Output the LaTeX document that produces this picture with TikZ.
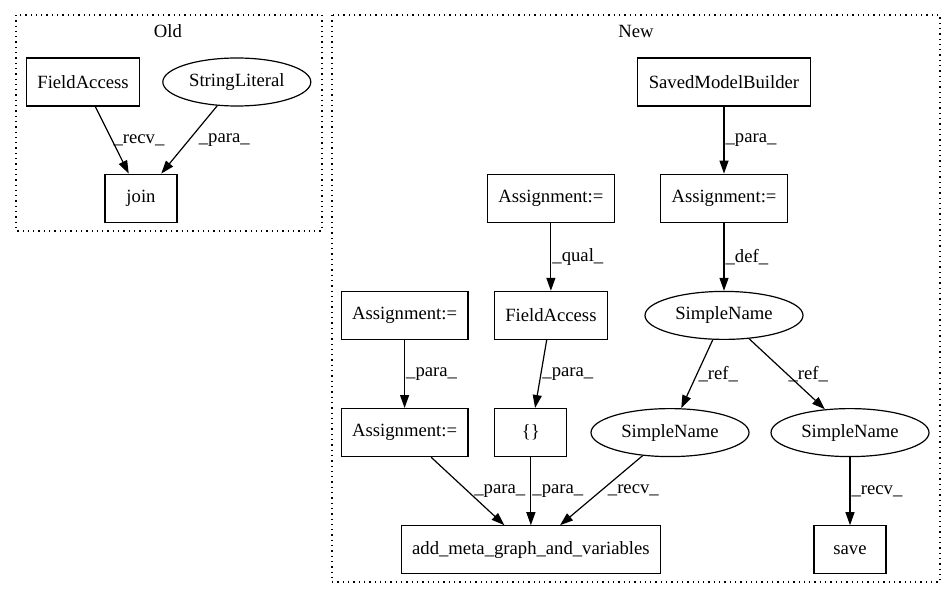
\documentclass[tikz,border=0pt]{standalone}
\usepackage{fontspec}
\setmainfont{Liberation Serif}
\usetikzlibrary{positioning,arrows.meta,shapes.geometric}
\tikzset{
	ast/.style={>={Triangle[length=13pt,width=9pt]},x=1pt,y=1pt,line width=1.2pt,
		font=\fontsize{18.67}{22}\selectfont,node distance=68pt},
	stmt/.style={rectangle,draw,minimum width=72pt,minimum height=48pt,inner xsep=11pt},
	simple/.style={ellipse,draw,minimum width=158pt,minimum height=48pt,inner sep=0pt},
	lbl/.style={anchor=west,inner sep=1pt},
	cluster/.style={draw,dash pattern=on 1.3pt off 4pt}
}

\begin{document}
\begin{tikzpicture}[ast]
	\useasboundingbox (0,0) rectangle (948,-596);
	
	% Old
	\draw[cluster] (16,-15) rectangle (322,-231);
	\node (old) at (168,-31) {Old};
	\node[stmt] (fa) at (83,-82) {FieldAccess};
	\node[simple,minimum width=148pt] (str) [right=22pt of fa] {StringLiteral};
	\node[stmt] (join) [below=67pt of fa,xshift=58pt] {join};
	
	\path[->] (fa) edge node[lbl] {\_recv\_} (join);
	\path[->] (str) edge node[lbl,xshift=8pt] {\_para\_} (join);
	
	% New
	\draw[cluster] (332,-15) rectangle (940,-582);
	\node (new) at (636,-31) {New};
	\node[stmt] (smb) at (724,-82) {SavedModelBuilder};
	\node[stmt] (asgr) [below=67pt of smb] {Assignment:=};
	\node[stmt] (asgm) [left=45pt of asgr] {Assignment:=};
	\node[simple] (sn) [below=68pt of asgr] {SimpleName};
	\node[stmt] (fam) [below=68pt of asgm] {FieldAccess};
	\node[stmt] (asgl) [left=25pt of fam] {Assignment:=};
	\node[stmt] (asgp) [below=68pt of asgl] {Assignment:=};
	\node[stmt] (init) [below=68pt of fam,xshift=-20pt] {\{\}};
	\node[simple] (snl) [below=68pt of sn,xshift=-54pt] {SimpleName};
	\node[simple] (snr) [below=68pt of sn,xshift=126pt] {SimpleName};
	\node[stmt] (add) [below=68pt of init] {add\_meta\_graph\_and\_variables};
	\node[stmt] (save) [below=68pt of snr] {save};
	
	\path[->] (smb) edge node[lbl] {\_para\_} (asgr);
	\path[->] (asgr) edge node[lbl] {\_def\_} (sn);
	\path[->] (asgm) edge node[lbl] {\_qual\_} (fam);
	\path[->] (asgl) edge node[lbl] {\_para\_} (asgp);
	\path[->] (fam) edge node[lbl] {\_para\_} (init);
	\path[->] (sn) edge node[lbl] {\_ref\_} (snl);
	\path[->] (sn) edge node[lbl] {\_ref\_} (snr);
	\path[->] (asgp) edge node[lbl,xshift=5pt] {\_para\_} (add);
	\path[->] (init) edge node[lbl] {\_para\_} (add);
	\path[->] (snl) edge node[lbl,xshift=5pt] {\_recv\_} (add);
	\path[->] (snr) edge node[lbl] {\_recv\_} (save);
\end{tikzpicture}
\end{document}
